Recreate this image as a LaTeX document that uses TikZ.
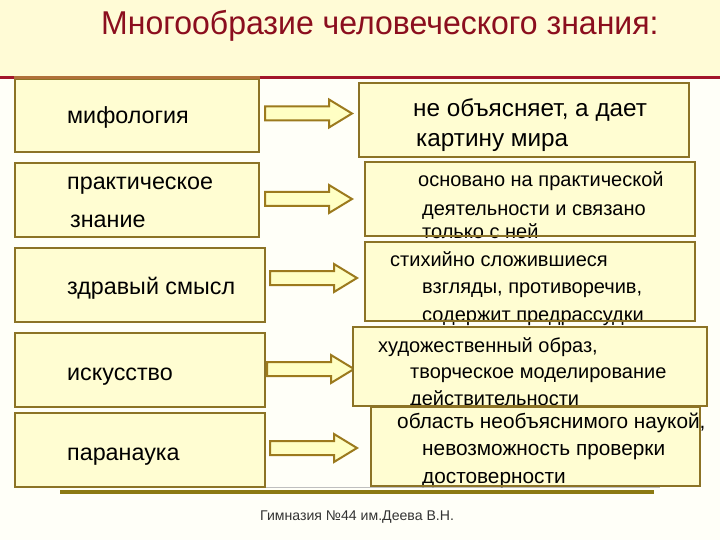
\documentclass[tikz,border=0pt]{standalone}
\usepackage{fontspec}
\setmainfont{Liberation Sans}
\usetikzlibrary{calc}
\definecolor{bgtop}{HTML}{FFFBD6}
\definecolor{bgbot}{HTML}{FFFFF8}
\definecolor{redline}{HTML}{A3152A}
\definecolor{boxfill}{HTML}{FFFDD2}
\definecolor{boxline}{HTML}{8C7326}
\definecolor{topbrown}{HTML}{B0703A}
\definecolor{arrline}{HTML}{9C7A1E}
\definecolor{arrfill}{HTML}{FFFFC4}
\definecolor{bline}{HTML}{8C7A12}
\definecolor{titlered}{HTML}{8B0E1E}
\tikzset{
  box/.style={fill=boxfill, draw=boxline, line width=2pt, inner sep=0pt, anchor=north west},
  rbox/.style={fill=boxfill, inner sep=0pt, anchor=north west},
  lt/.style={anchor=base west, inner sep=0pt, font=\fontsize{23.3}{27}\selectfont},
  rt/.style={anchor=base west, inner sep=0pt, font=\fontsize{20}{24}\selectfont},
  rtmid/.style={anchor=base west, inner sep=0pt, font=\fontsize{20.8}{24}\selectfont},
  rtbig/.style={anchor=base west, inner sep=0pt, font=\fontsize{24.3}{27}\selectfont},
  arrowst/.style={draw=arrline, fill=arrfill, line width=2pt, line join=miter},
  barrow/.pic={\path[arrowst] (0,-7) -- (64,-7) -- (64,-14) -- (87,0) -- (64,14) -- (64,7) -- (0,7) -- cycle;}
}
\begin{document}
\begin{tikzpicture}[x=1pt,y=-1pt]
\useasboundingbox (0,0) rectangle (720,540);
% background
\fill[bgbot] (0,0) rectangle (720,540);
\fill[bgtop] (0,0) rectangle (720,78);
\draw[redline, line width=3pt] (0,78) -- (720,78);
% title
\node[anchor=base west, inner sep=0pt, text=titlered, font=\fontsize{33}{36}\selectfont] (title) at (101,35) {\scalebox{0.97}[1]{Многообразие человеческого знания:}};
% bottom line
\draw[black!25, line width=1pt] (60,487) -- (660,487);
% left boxes
\node[box, minimum width=244, minimum height=73] (L1) at (14,78) {};
\draw[topbrown, line width=3pt] (L1.north west) -- (L1.north east);
\node[box, minimum width=244, minimum height=74] (L2) at (14,162) {};
\node[box, minimum width=250, minimum height=74] (L3) at (14,247) {};
\node[box, minimum width=250, minimum height=74] (L4) at (14,332) {};
\node[box, minimum width=250, minimum height=74] (L5) at (14,412) {};
\draw[bline, line width=4pt] (60,492) -- (654,492);
\node[lt] (L1t) at (67,124) {мифология};
\node[lt] (L2t) at (67,190) {практическое};
\node[lt] (L2u) at (70,227) {знание};
\node[lt] (L3t) at (67,294) {здравый смысл};
\node[lt] (L4t) at (67,380) {искусство};
\node[lt] (L5t) at (67,460) {паранаука};
% arrows
\pic at ($(L1.east)+(5,-2)$) {barrow};
\pic at ($(L2.east)+(5,-1)$) {barrow};
\pic at ($(L3.east)+(4,-7)$) {barrow};
\pic at ($(L4.east)+(1,-1)$) {barrow};
\pic at ($(L5.east)+(4,-2)$) {barrow};
% right boxes
\node[rbox, minimum width=330, minimum height=74] (R1) at (359,83) {};
\node[rtbig] (R1a) at (413,117) {не объясняет, а дает};
\node[rtbig] (R1b) at (416,147) {картину мира};
\draw[boxline, line width=2pt] (R1.north west) rectangle (R1.south east);

\node[rbox, minimum width=330, minimum height=74] (R2) at (365,162) {};
\node[rt] (R2a) at (418,187) {основано на практической};
\node[rt] (R2b) at (422,215) {деятельности и связано};
\node[rt] (R2c) at (422,238) {только с ней};
\draw[boxline, line width=2pt] (R2.north west) rectangle (R2.south east);

\node[rbox, minimum width=330, minimum height=79] (R3) at (365,242) {};
\node[rt] (R3a) at (390,266) {стихийно сложившиеся};
\node[rt] (R3b) at (422,293) {взгляды, противоречив,};
\node[rt] (R3c) at (422,321) {содержит предрассудки};
\draw[boxline, line width=2pt] (R3.north west) rectangle (R3.south east);

\node[rbox, minimum width=354, minimum height=79] (R4) at (353,327) {};
\node[rt] (R4a) at (378,352) {художественный образ,};
\node[rt] (R4b) at (410,378) {творческое моделирование};
\node[rt] (R4c) at (410,405) {действительности};
\draw[boxline, line width=2pt] (R4.north west) rectangle (R4.south east);

\node[rbox, minimum width=329, minimum height=79] (R5) at (371,407) {};
\node[rtmid] (R5a) at (397,428) {область необъяснимого наукой,};
\node[rtmid] (R5b) at (422,455) {невозможность проверки};
\node[rtmid] (R5c) at (422,483) {достоверности};
\draw[boxline, line width=2pt] (R5.north west) rectangle (R5.south east);
% footer
\node[anchor=base west, inner sep=0pt, text=black!80, font=\fontsize{14.1}{16}\selectfont] (foot) at (260,520) {Гимназия №44 им.Деева В.Н.};
\end{tikzpicture}
\end{document}
